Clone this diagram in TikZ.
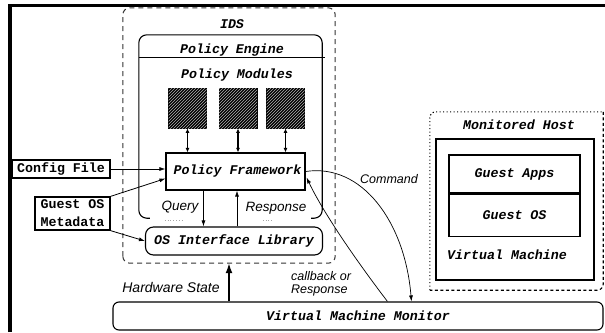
\documentclass[tikz,border=0pt]{standalone}
\usepackage{fontspec}
\usetikzlibrary{arrows.meta,calc,patterns}
\newfontfamily\monofam{Liberation Mono}
\newfontfamily\helvfam{Liberation Sans}
\newcommand\lblfont{\fontsize{13.3}{15}\selectfont\monofam\bfseries\itshape}
\newcommand\plainfont{\fontsize{13.3}{18}\selectfont\monofam\bfseries}
\newcommand\edgefont[1]{\fontsize{#1}{#1}\selectfont\helvfam\itshape}
\begin{document}
\begin{tikzpicture}[x=1pt,y=-1pt,
  box/.style={draw, line width=1.1pt, inner sep=0pt, font=\lblfont},
  inbox/.style={draw, line width=1.6pt, inner sep=0pt, font=\plainfont},
  module/.style={draw, line width=0.8pt, fill=black, minimum width=38pt, minimum height=40pt,
    postaction={pattern=north east lines, pattern color=gray!60}},
  region/.style={inner sep=0pt},
  title/.style={font=\lblfont, inner sep=0pt},
  flow/.style={line width=0.8pt, -{Latex[length=6pt,width=4pt]}},
  modlink/.style={line width=1.3pt, {Latex[length=4.5pt,width=4pt]}-{Latex[length=4.5pt,width=4pt]}},
  ctl/.style={line width=0.7pt, -{Latex[length=6pt,width=4pt]}}
]
\useasboundingbox (0,0) rectangle (605,332);
\fill[white] (0,0) rectangle (605,332);

% outer frame
\draw[line width=3.8pt, line join=miter] (10,332) -- (10,5.5) -- (605,5.5);

% IDS container
\node[region, minimum width=212pt, minimum height=255pt] (ids) at (229,135.5) {};
\draw[line width=1pt, dash pattern=on 5pt off 4pt, rounded corners=7, draw=black!80]
  (ids.south west) rectangle (ids.north east);
\node[title] (idslbl) at (232,24) {IDS};

% Policy Engine (open at the bottom)
\node[region, minimum width=183pt, minimum height=183pt] (pe) at (230.5,126.5) {};
\draw[line width=1.1pt, rounded corners=8]
  ($(pe.south west)+(11,0)$) -| (pe.north west) -| (pe.south east) -- ++(-11,0);
\draw[line width=0.9pt] ($(pe.north west)+(0,23)$) -- ++(186,0);
\draw[gray!70, line width=0.8pt, dotted] ($(pe.south west)+(26,2)$) -- ++(17,0);
\draw[gray!70, line width=0.8pt, dotted] ($(pe.south west)+(124,2)$) -- ++(9,0);
\node[title] (pelbl) at (232,50) {Policy Engine};
\node[title] (pmlbl) at (237,75) {Policy Modules};

% policy modules
\node[module] (m1) at (187.5,108) {};
\node[module] (m2) at (238,108) {};
\node[module] (m3) at (285.5,108) {};

% framework and interface library
\node[box, minimum width=139pt, minimum height=37pt] (pf) at (235.5,171.5) {\hspace{4pt}Policy Framework};
\node[box, rounded corners=8, minimum width=177pt, minimum height=28pt] (osl) at (234,241) {OS Interface Library};

\draw[modlink] (m1.south) -- (m1.south |- pf.north);
\draw[modlink] (m2.south) -- (m2.south |- pf.north);
\draw[modlink] (m3.south) -- (m3.south |- pf.north);

% inputs
\node[inbox, minimum width=98pt, minimum height=18pt] (cfg) at (61,169) {Config File};
\node[inbox, line width=1.3pt, minimum width=75pt, minimum height=33pt, align=left] (meta) at (72.5,213.5) {Guest OS\\Metadata};

\draw[flow] (cfg.east) -- (cfg.east -| pf.west);
\draw[flow] (meta.north east) -- ($(pf.south west)+(0,-12)$);
\draw[flow] (meta.south east) -- (osl.west);

% query / response
\coordinate (qtop) at ($(pf.south west)+(38,0)$);
\coordinate (rbot) at ($(osl.north)+(3,0)$);
\draw[flow] (qtop) -- (qtop |- osl.north);
\draw[flow] (rbot) -- (rbot |- pf.south);
\node[font=\edgefont{13.5}, inner sep=0pt] (qlbl) at (180,207) {Query};
\node[font=\edgefont{13.5}, inner sep=0pt] (rlbl) at (276,208) {Response};

% virtual machine monitor
\node[box, rounded corners=6, minimum width=490pt, minimum height=28pt] (vmm) at (358,316) {Virtual Machine Monitor};

\draw[line width=1.6pt, -{Latex[length=10pt,width=7pt]}] (ids.south |- vmm.north) -- (ids.south);
\node[font=\edgefont{14}, inner sep=0pt] (hwlbl) at (171,287) {Hardware State};

% command and callback paths
\coordinate (cmdend) at ($(vmm.north west)+(299,0)$);
\coordinate (cbstart) at ($(vmm.north west)+(275,0)$);
\draw[ctl] (pf.east) .. controls (362,163) and (405,222) .. (cmdend);
\draw[ctl] (cbstart) .. controls (352,255) and (322,210) .. ($(pf.east)+(1,6)$);
\node[font=\edgefont{12.5}, inner sep=0pt] (cmdlbl) at (389,179) {Command};
\node[font=\edgefont{12.5}, inner sep=0pt, align=left, anchor=west] (cblbl) at (291,284)
  {\fontsize{12.5}{12}\selectfont callback or\\Response};

% monitored host
\node[region, minimum width=173pt, minimum height=178pt] (mh) at (516.5,201) {};
\draw[line width=1.1pt, dash pattern=on 1.2pt off 2.3pt, rounded corners=6]
  (mh.south west) -- (mh.north west) -- (mh.north east);
\draw[line width=1.1pt, dash pattern=on 3pt off 2.5pt, rounded corners=6]
  (mh.north east) -- (mh.south east) -- (mh.south west);
\node[title] (mhlbl) at (519,125) {Monitored Host};

\node[draw, line width=1.1pt, minimum width=158pt, minimum height=141pt] (vm) at (515,209.5) {};
\node[box, minimum width=131pt, minimum height=38pt] (ga) at (514.5,174) {Guest Apps};
\node[box, minimum width=131pt, minimum height=42pt, anchor=north] (go) at (ga.south) {Guest OS};
\node[title, anchor=west] (vmlbl) at (447,255) {Virtual Machine};
\end{tikzpicture}
\end{document}
